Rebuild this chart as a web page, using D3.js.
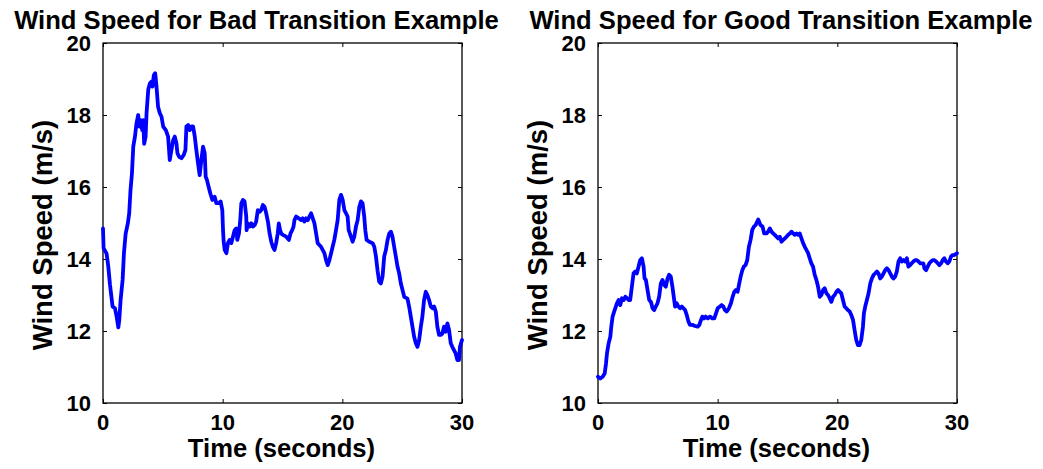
<!DOCTYPE html>
<html>
<head>
<meta charset="utf-8">
<script src="https://cdn.jsdelivr.net/npm/d3@7/dist/d3.min.js"></script>
<style>
  html, body { margin: 0; padding: 0; background: #fff; }
  svg { display: block; }
  text { font-family: "Liberation Sans", Arial, Helvetica, sans-serif; font-weight: bold; fill: #000; }
</style>
</head>
<body>
<svg id="chart" width="1043" height="469"></svg>
<script>
// Wind speed records (time in seconds, speed in m/s)
const timeBad = [0,0.05,0.3,0.44,0.58,0.8,1.0,1.14,1.28,1.36,1.47,1.64,1.75,1.89,2.08,2.19,2.3,2.42,2.53,2.67,2.8,2.94,3.03,3.14,3.28,3.36,3.44,3.56,3.64,3.78,3.92,4.06,4.14,4.25,4.36,4.47,4.6,4.75,4.89,5.03,5.25,5.44,5.58,5.72,5.86,6.0,6.14,6.22,6.36,6.56,6.75,6.89,6.97,7.11,7.25,7.39,7.53,7.67,7.8,7.94,8.08,8.22,8.36,8.5,8.58,8.69,8.83,8.97,9.14,9.33,9.47,9.69,9.83,9.97,10.03,10.08,10.17,10.31,10.44,10.58,10.72,10.86,11.0,11.14,11.22,11.36,11.47,11.56,11.69,11.83,11.97,12.0,12.1,12.25,12.39,12.53,12.67,12.8,12.94,13.08,13.22,13.36,13.5,13.64,13.78,13.92,14.06,14.19,14.33,14.47,14.6,14.69,14.8,14.89,15.03,15.31,15.53,15.67,15.81,15.92,16.0,16.14,16.36,16.56,16.69,16.83,16.97,17.11,17.25,17.39,17.53,17.67,17.81,17.94,18.08,18.22,18.36,18.5,18.64,18.78,18.92,19.06,19.19,19.33,19.47,19.61,19.75,19.89,20.03,20.17,20.31,20.44,20.53,20.72,20.86,21.0,21.14,21.28,21.42,21.56,21.69,21.83,21.92,22.03,22.25,22.53,22.67,22.81,22.94,23.08,23.22,23.36,23.5,23.64,23.78,23.92,24.06,24.19,24.33,24.47,24.61,24.75,24.89,25.03,25.17,25.44,25.58,25.72,25.86,26.0,26.14,26.28,26.42,26.56,26.69,26.83,26.97,27.11,27.25,27.39,27.53,27.67,27.81,27.94,28.08,28.22,28.36,28.5,28.64,28.78,28.92,29.06,29.19,29.33,29.47,29.61,29.75,29.83,30.0];
const speedBad = [14.85,14.3,14.15,13.8,13.3,12.68,12.63,12.4,12.1,12.3,12.86,13.42,14.16,14.7,15.0,15.27,15.92,16.38,17.12,17.4,17.77,18.0,17.68,17.86,17.58,17.86,17.2,17.4,18.05,18.7,18.88,18.93,18.79,19.11,19.16,18.79,18.23,18.05,17.95,17.68,17.58,17.4,16.75,17.03,17.3,17.4,17.2,16.94,16.84,16.8,16.89,17.03,17.68,17.72,17.58,17.68,17.68,17.4,17.03,16.66,16.33,16.75,17.12,16.94,16.29,16.19,16.0,15.82,15.64,15.73,15.55,15.55,15.6,15.36,14.8,14.5,14.25,14.16,14.44,14.53,14.44,14.62,14.8,14.85,14.53,14.71,15.08,15.55,15.64,15.6,15.18,14.8,14.99,14.9,14.99,14.9,14.94,15.04,15.36,15.31,15.36,15.5,15.45,15.27,15.04,14.71,14.48,14.34,14.25,14.44,14.71,14.99,14.8,14.71,14.67,14.62,14.53,14.71,14.8,14.9,15.08,15.18,15.13,15.08,15.13,15.04,15.13,15.08,15.18,15.27,15.13,14.99,14.71,14.44,14.39,14.34,14.25,14.16,13.97,13.83,13.97,14.16,14.34,14.53,14.8,15.08,15.64,15.78,15.64,15.36,15.27,15.18,14.8,14.62,14.48,14.62,14.9,15.08,15.45,15.6,15.55,15.18,14.8,14.53,14.48,14.44,14.34,14.07,13.69,13.37,13.32,13.51,14.07,14.25,14.53,14.71,14.76,14.62,14.34,14.07,13.79,13.6,13.32,13.14,12.95,12.9,12.68,12.4,12.12,11.84,11.66,11.56,11.75,12.12,12.4,12.86,13.09,13.0,12.86,12.68,12.63,12.68,12.54,12.12,11.89,11.89,11.93,12.12,11.98,12.21,12.03,11.66,11.56,11.47,11.38,11.19,11.19,11.56,11.75];

const timeGood = [0,0.19,0.39,0.56,0.67,0.75,0.89,1.03,1.11,1.22,1.39,1.58,1.72,1.86,2.0,2.14,2.28,2.42,2.56,2.69,2.83,2.97,3.11,3.25,3.39,3.53,3.67,3.81,3.89,4.0,4.14,4.28,4.42,4.56,4.69,4.83,4.97,5.11,5.25,5.39,5.53,5.67,5.81,5.94,6.08,6.22,6.33,6.44,6.58,6.72,6.86,7.0,7.14,7.28,7.42,7.56,7.69,7.89,8.11,8.33,8.47,8.61,8.72,8.86,9.0,9.17,9.36,9.56,9.72,9.86,10.0,10.19,10.33,10.47,10.61,10.75,10.94,11.11,11.25,11.39,11.53,11.67,11.78,11.92,12.06,12.19,12.33,12.47,12.61,12.75,12.89,13.03,13.17,13.31,13.39,13.58,13.75,13.89,14.08,14.22,14.36,14.5,14.64,14.78,14.92,15.06,15.19,15.33,15.47,15.61,15.75,15.89,16.03,16.17,16.31,16.44,16.58,16.72,16.86,17.0,17.14,17.28,17.42,17.56,17.69,17.83,17.97,18.11,18.25,18.39,18.53,18.67,18.81,18.94,19.08,19.22,19.36,19.5,19.64,19.78,19.92,20.06,20.19,20.33,20.47,20.61,20.75,20.89,21.03,21.17,21.31,21.44,21.58,21.72,21.86,22.0,22.14,22.22,22.33,22.47,22.61,22.75,22.89,23.03,23.17,23.31,23.44,23.58,23.72,23.86,24.0,24.14,24.28,24.42,24.56,24.69,24.83,24.97,25.11,25.25,25.39,25.53,25.67,25.81,25.94,26.08,26.22,26.36,26.5,26.64,26.78,26.92,27.06,27.19,27.28,27.42,27.56,27.69,27.83,27.97,28.11,28.25,28.39,28.53,28.67,28.81,28.94,29.08,29.22,29.36,29.5,29.64,29.78,30.0];
const speedGood = [10.73,10.68,10.73,10.82,11.1,11.38,11.66,11.84,12.12,12.4,12.58,12.77,12.86,12.72,12.91,12.86,12.95,12.91,12.86,12.86,13.23,13.6,13.65,13.6,13.79,13.97,14.02,13.79,13.46,13.42,13.14,12.86,12.81,12.63,12.58,12.68,12.77,12.95,13.32,13.42,13.28,13.23,13.46,13.56,13.51,13.23,12.95,12.68,12.77,12.68,12.63,12.68,12.63,12.58,12.44,12.26,12.17,12.17,12.14,12.12,12.17,12.31,12.4,12.35,12.4,12.35,12.4,12.35,12.35,12.49,12.63,12.68,12.72,12.68,12.58,12.54,12.63,12.77,12.95,13.09,13.14,13.09,13.28,13.51,13.69,13.79,13.83,13.97,14.34,14.53,14.81,14.9,14.94,15.04,15.1,14.94,14.9,14.71,14.71,14.76,14.85,14.76,14.71,14.67,14.62,14.57,14.62,14.48,14.53,14.57,14.62,14.67,14.71,14.76,14.71,14.67,14.71,14.67,14.71,14.57,14.44,14.34,14.25,14.16,14.02,13.88,13.79,13.56,13.42,13.23,12.95,13.0,13.14,13.19,13.05,13.0,12.91,12.81,12.95,13.0,13.09,13.14,13.09,13.05,12.86,12.68,12.63,12.58,12.54,12.44,12.31,12.03,11.75,11.61,11.61,11.75,12.12,12.49,12.68,12.86,13.05,13.32,13.46,13.56,13.6,13.65,13.6,13.46,13.51,13.6,13.69,13.74,13.69,13.6,13.51,13.46,13.51,13.65,13.93,14.02,13.93,13.97,13.93,14.02,13.79,13.83,13.88,13.93,13.97,13.97,13.93,13.88,13.88,13.88,13.74,13.69,13.79,13.88,13.93,13.97,13.97,13.93,13.88,13.83,13.88,13.97,14.02,13.93,13.88,13.93,14.07,14.11,14.11,14.16];

const xTicks = [0, 10, 20, 30];
const yTicks = [10, 12, 14, 16, 18, 20];
const titles = ["Wind Speed for Bad Transition Example", "Wind Speed for Good Transition Example"];
const xLabel = "Time (seconds)";
const yLabel = "Wind Speed (m/s)";

const svg = d3.select("#chart");
svg.append("rect").attr("width", 1043).attr("height", 469).attr("fill", "#fff");

const panels = [
  { left: 103, title: titles[0], titleX: 256.5, time: timeBad, speed: speedBad },
  { left: 598, title: titles[1], titleX: 781,   time: timeGood, speed: speedGood }
];
const plotW = 359, plotTop = 43, plotBottom = 403;

panels.forEach(p => {
  const x = d3.scaleLinear().domain([0, 30]).range([p.left, p.left + plotW]);
  const y = d3.scaleLinear().domain([10, 20]).range([plotBottom, plotTop]);
  const g = svg.append("g");

  // tick marks pointing inward on all four sides
  const tickLen = 4;
  const axStyle = sel => {
    sel.select(".domain").remove();
    sel.selectAll(".tick line").attr("stroke", "#000").attr("stroke-width", 1);
  };
  g.append("g").attr("transform", `translate(0,${plotBottom})`)
    .call(d3.axisBottom(x).tickValues(xTicks).tickSize(-tickLen).tickFormat(""))
    .call(axStyle);
  g.append("g").attr("transform", `translate(0,${plotTop})`)
    .call(d3.axisTop(x).tickValues(xTicks).tickSize(-tickLen).tickFormat(""))
    .call(axStyle);
  g.append("g").attr("transform", `translate(${p.left},0)`)
    .call(d3.axisLeft(y).tickValues(yTicks).tickSize(-tickLen).tickFormat(""))
    .call(axStyle);
  g.append("g").attr("transform", `translate(${p.left + plotW},0)`)
    .call(d3.axisRight(y).tickValues(yTicks).tickSize(-tickLen).tickFormat(""))
    .call(axStyle);

  // tick labels
  g.selectAll(".xl").data(xTicks).join("text")
    .attr("x", d => x(d)).attr("y", 429.5)
    .attr("text-anchor", "middle").attr("font-size", 22).text(d => d);
  g.selectAll(".yl").data(yTicks).join("text")
    .attr("x", p.left - 12).attr("y", d => y(d) + 8)
    .attr("text-anchor", "end").attr("font-size", 22).text(d => d);

  // box
  g.append("rect").attr("x", p.left).attr("y", plotTop)
    .attr("width", plotW).attr("height", plotBottom - plotTop)
    .attr("fill", "none").attr("stroke", "#000").attr("stroke-width", 1.3);

  // data line
  const pts = p.time.map((t, i) => [t, p.speed[i]]);
  g.append("path").datum(pts)
    .attr("fill", "none").attr("stroke", "#0000ff").attr("stroke-width", 3.8)
    .attr("stroke-linejoin", "round").attr("stroke-linecap", "round")
    .attr("d", d3.line().x(d => x(d[0])).y(d => y(d[1])));

  // labels
  g.append("text").attr("x", p.titleX).attr("y", 29.3)
    .attr("text-anchor", "middle").attr("font-size", 25.6).text(p.title);
  g.append("text").attr("x", p.left + plotW / 2 - 1).attr("y", 457)
    .attr("text-anchor", "middle").attr("font-size", 25.6).text(xLabel);
  g.append("text")
    .attr("transform", `translate(${p.left - 51},235) rotate(-90)`)
    .attr("text-anchor", "middle").attr("font-size", 27.5).text(yLabel);
});
</script>
</body>
</html>
